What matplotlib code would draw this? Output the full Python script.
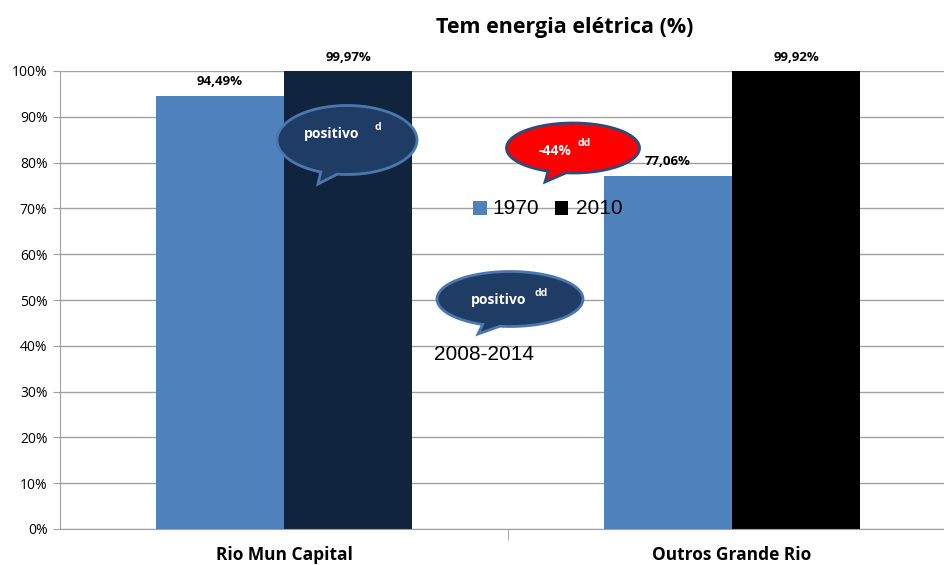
import numpy as np
import matplotlib
matplotlib.use('Agg')
import matplotlib.pyplot as plt
from matplotlib.patches import Polygon

# ------------------------------- dados -------------------------------
categorias = ['Rio Mun Capital', 'Outros Grande Rio']
v1970 = [94.49, 77.06]
v2010 = [99.97, 99.92]
rotulos_1970 = ['94,49%', '77,06%']
rotulos_2010 = ['99,97%', '99,92%']
cores_2010 = ['#10243E', '#000000']
yticks = [0, 10, 20, 30, 40, 50, 60, 70, 80, 90, 100]

W, H = 944, 565
plt.rcParams['font.family'] = ['Open Sans', 'DejaVu Sans']

fig = plt.figure(figsize=(W / 100, H / 100), dpi=100)
ax = fig.add_axes([60 / W, 1 - 529 / H, 896 / W, 458 / H])

x = np.arange(len(categorias))
larg = 0.286
ax.bar(x - larg / 2, v1970, larg, color='#4F81BD', zorder=2)
ax.bar(x + larg / 2, v2010, larg, color=cores_2010, zorder=2)

for i in range(len(categorias)):
    ax.text(x[i] - larg / 2, v1970[i] + 1.8, rotulos_1970[i], ha='center', va='bottom',
            fontsize=9.5, fontweight='bold', clip_on=False)
    ax.text(x[i] + larg / 2, v2010[i] + 1.6, rotulos_2010[i], ha='center', va='bottom',
            fontsize=9.5, fontweight='bold', clip_on=False)

ax.set_xlim(-0.5, 1.5)
ax.set_ylim(0, 100)
ax.set_yticks(yticks)
ax.set_yticklabels([f'{t}%' for t in yticks], fontsize=10)
ax.yaxis.grid(True, color='#A0A0A0', linewidth=1, zorder=0)
ax.tick_params(axis='y', length=5, color='#A0A0A0', pad=4)
ax.set_xticks(x)
ax.set_xticklabels(categorias, fontsize=12.5, fontweight='bold')
ax.tick_params(axis='x', length=0, pad=12)
ax.set_xticks([0.5], minor=True)
ax.tick_params(axis='x', which='minor', length=8, color='#A0A0A0')
for s in ['top', 'right']:
    ax.spines[s].set_visible(False)
for s in ['left', 'bottom']:
    ax.spines[s].set_color('#A0A0A0')

fig.text(565 / W, 1 - 28 / H, 'Tem energia elétrica (%)', ha='center', va='center',
         fontsize=15.5, fontweight='bold')


# ------------------------------- balões -------------------------------
def balao(cx, cy, w, h, tip, a1, a2, fc, ec, texto, tx, ty, sup, sx, sy):
    ang = np.linspace(np.radians(a2), np.radians(a1) + 2 * np.pi, 120)
    pts = [(cx + w / 2 * np.cos(t), cy - h / 2 * np.sin(t)) for t in ang]
    pts.append(tip)
    pts = [(px / W, 1 - py / H) for px, py in pts]
    fig.patches.append(Polygon(pts, closed=True, facecolor=fc, edgecolor=ec, linewidth=2,
                               transform=fig.transFigure, zorder=5))
    fig.text(tx / W, 1 - ty / H, texto, ha='center', va='center', color='white',
             fontsize=10, fontweight='bold', zorder=6)
    fig.text(sx / W, 1 - sy / H, sup, ha='center', va='center', color='white',
             fontsize=7.5, fontweight='bold', zorder=6)


balao(347, 140, 140, 69, (318, 184), -112, -98, '#1F3C64', '#4A78AE',
      'positivo', 332, 134, 'd', 378, 128)
balao(573, 148, 133, 50, (545, 182), -112, -96, '#FF0000', '#2E4A7A',
      '-44%', 555, 151, 'dd', 584, 144)
balao(510, 299, 146, 55, (478, 334), -112, -98, '#1F3C64', '#4A78AE',
      'positivo', 499, 300, 'dd', 541, 293)

# ------------------------------- legenda / textos -------------------------------
fig.patches.append(plt.Rectangle((473 / W, 1 - 215 / H), 14 / W, 14 / H, facecolor='#4F81BD',
                                 transform=fig.transFigure, zorder=5))
fig.text(492 / W, 1 - 208 / H, '1970', ha='left', va='center', fontsize=15,
         family=['Liberation Sans'])
fig.patches.append(plt.Rectangle((555 / W, 1 - 215 / H), 13 / W, 14 / H, facecolor='#000000',
                                 transform=fig.transFigure, zorder=5))
fig.text(576 / W, 1 - 208 / H, '2010', ha='left', va='center', fontsize=15,
         family=['Liberation Sans'])
fig.text(434 / W, 1 - 355 / H, '2008-2014', ha='left', va='center', fontsize=15,
         family=['Liberation Sans'])

fig.savefig('out.png', dpi=100)
